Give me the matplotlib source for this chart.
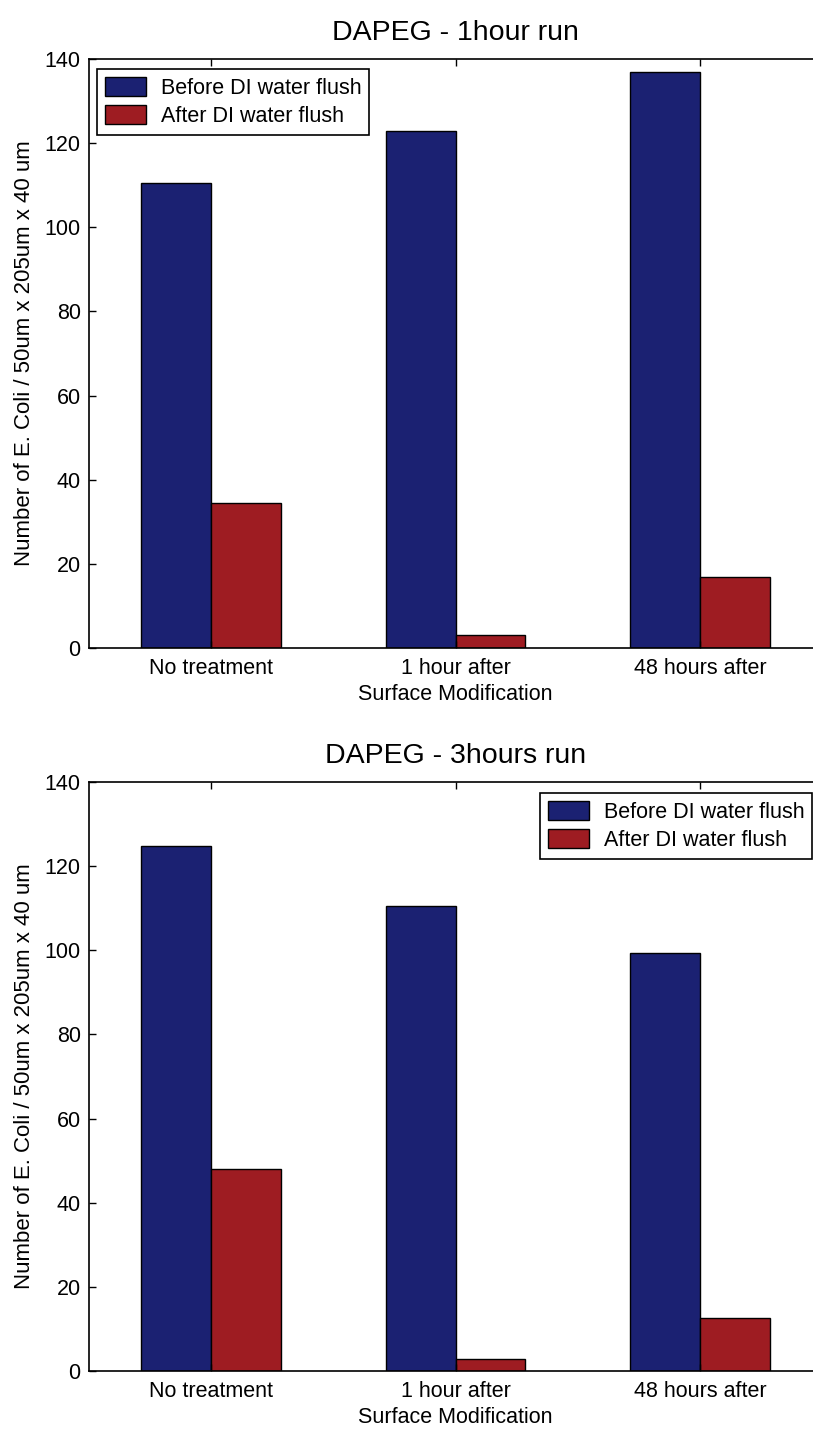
import matplotlib
matplotlib.use('Agg')
import matplotlib.pyplot as plt
import numpy as np

# data
categories = ['No treatment', '1 hour after', '48 hours after']
before_1h = [110.5, 123.0, 137.0]
after_1h = [34.5, 3.2, 16.8]
before_3h = [124.8, 110.5, 99.4]
after_3h = [48.0, 2.9, 12.6]
titles = ['DAPEG - 1hour run', 'DAPEG - 3hours run']
legend_labels = ['Before DI water flush', 'After DI water flush']

blue = '#1b2172'
red = '#9e1c22'

plt.rcParams['font.family'] = ['Liberation Sans', 'DejaVu Sans']

fig = plt.figure(figsize=(8.13, 14.32), dpi=100)
ax_top = fig.add_axes([0.1095, 0.5475, 0.9016, 0.4113])
ax_bot = fig.add_axes([0.1095, 0.0426, 0.9016, 0.4113])


def draw_panel(ax, before, after, title, legend_loc, legend_anchor):
    x = np.arange(1, len(categories) + 1)
    w = 0.286
    b1 = ax.bar(x - w / 2, before, w, color=blue, edgecolor='black', linewidth=1.0)
    b2 = ax.bar(x + w / 2, after, w, color=red, edgecolor='black', linewidth=1.0)
    ax.set_xlim(0.5, 3.5)
    ax.set_ylim(0, 140)
    ax.set_yticks(np.arange(0, 141, 20))
    ax.set_xticks(x)
    ax.set_xticklabels(categories)
    ax.tick_params(axis='both', direction='in', labelsize=15.5, length=5,
                   top=True, right=True, width=1.0)
    ax.tick_params(axis='x', pad=7)
    ax.tick_params(axis='y', pad=6)
    for s in ax.spines.values():
        s.set_linewidth(1.2)
    ax.set_title(title, fontsize=20.5, pad=14)
    ax.set_xlabel('Surface Modification', fontsize=15.5, labelpad=4)
    ax.set_ylabel('Number of E. Coli / 50um x 205um x 40 um', fontsize=16, labelpad=7)
    leg = ax.legend([b1, b2], legend_labels, loc=legend_loc, bbox_to_anchor=legend_anchor,
                    borderaxespad=0, fontsize=15.5, fancybox=False, edgecolor='black',
                    framealpha=1, handlelength=1.9, handleheight=1.0, labelspacing=0.3,
                    borderpad=0.35, handletextpad=0.7)
    leg.get_frame().set_linewidth(1.2)


draw_panel(ax_top, before_1h, after_1h, titles[0], 'upper left', (0.011, 0.983))
draw_panel(ax_bot, before_3h, after_3h, titles[1], 'upper right', (0.986, 0.981))

fig.savefig('out.png', dpi=100)
